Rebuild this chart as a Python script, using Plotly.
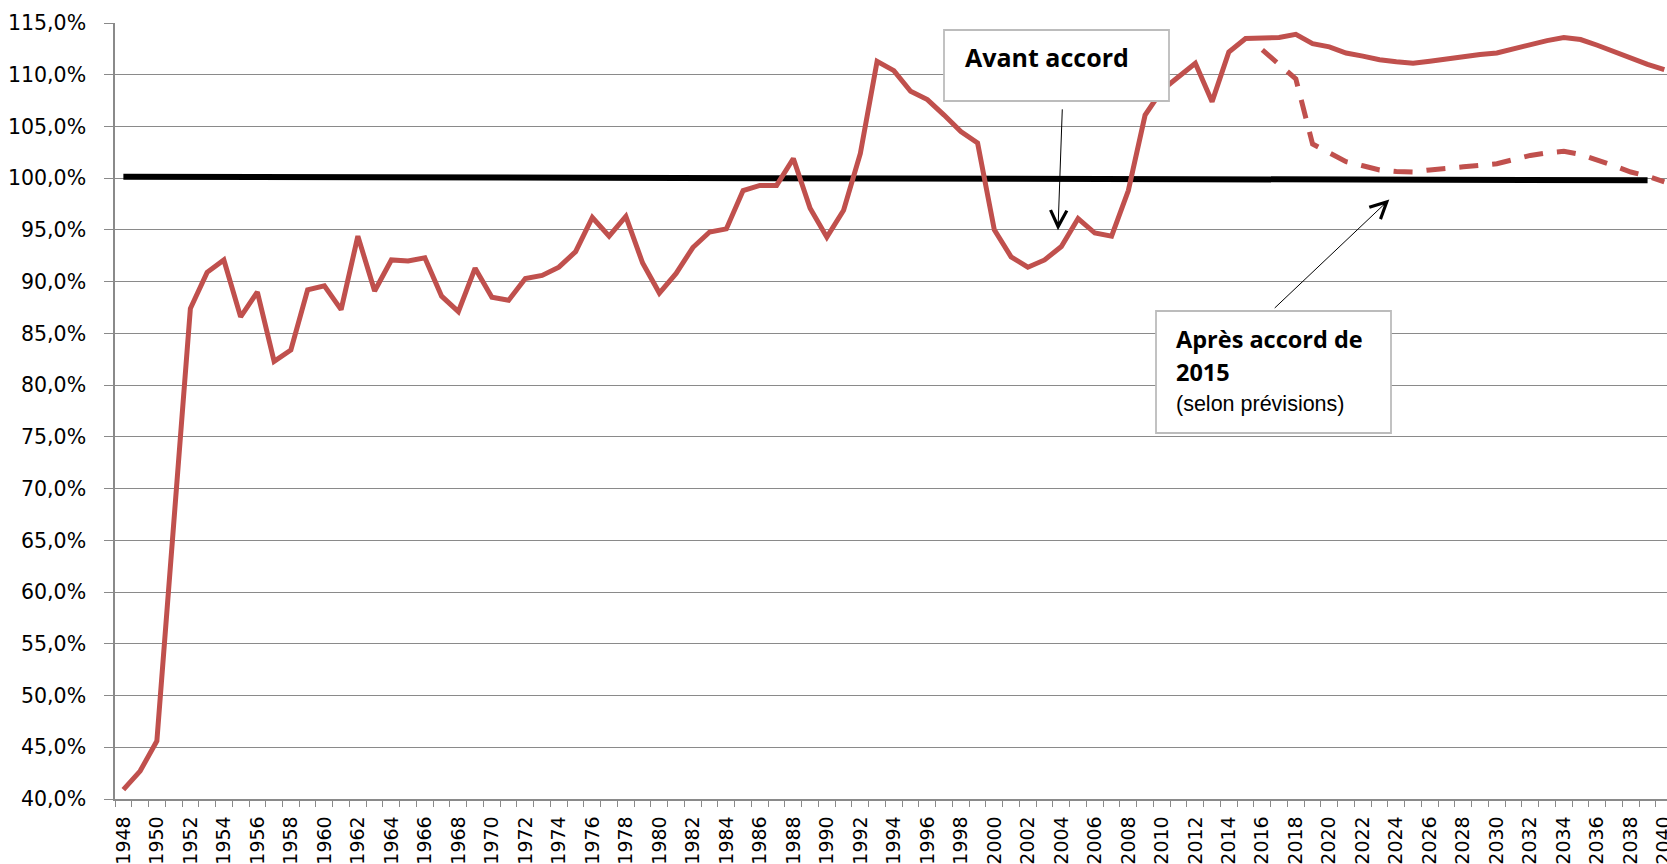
import plotly.graph_objects as go

# ---------------- data ----------------
years = list(range(1948, 2041))
avant_accord = [
    40.9, 42.7, 45.6, 66.0, 87.4, 90.9, 92.1, 86.6, 89.0, 82.3,   # 1948-1957
    83.4, 89.2, 89.6, 87.3, 94.4, 89.1, 92.1, 92.0, 92.3, 88.6,   # 1958-1967
    87.1, 91.3, 88.5, 88.2, 90.3, 90.6, 91.4, 92.9, 96.2, 94.4,   # 1968-1977
    96.3, 91.8, 88.9, 90.8, 93.3, 94.8, 95.1, 98.8, 99.3, 99.3,   # 1978-1987
    101.9, 97.1, 94.3, 96.9, 102.4, 111.3, 110.4, 108.4, 107.6, 106.1,  # 1988-1997
    104.5, 103.4, 95.0, 92.4, 91.4, 92.1, 93.4, 96.1, 94.7, 94.4,  # 1998-2007
    98.8, 106.1, 108.5, 109.8, 111.1, 107.4, 112.2, 113.5, 113.5, 113.6,  # 2008-2017
    113.9, 113.0, 112.7, 112.1, 111.8, 111.45, 111.25, 111.1, 111.3, 111.55,  # 2018-2027
    111.7, 111.95, 112.1, 112.5, 112.95, 113.3, 113.6, 113.4, 112.85, 112.2,  # 2028-2037
    111.55, 111.0, 110.5,  # 2038-2040
]
apres_years = list(range(2016, 2041))
apres_accord = [
    112.4, 111.0, 109.6, 103.3, 102.4, 101.6, 101.2, 100.8, 100.65, 100.6,
    100.8, 101.0, 101.1, 101.25, 101.4, 101.8, 102.2, 102.45, 102.6, 102.3,
    101.8, 101.2, 100.6, 100.2, 99.65,
]
equilibre_years = [1948, 2039]
equilibre = [100.15, 99.8]

label_years = list(range(1948, 2041, 2))
label_text = [str(y) for y in label_years]
y_ticks = list(range(40, 116, 5))
y_tick_text = [f"{v},0%" for v in y_ticks]

# ---------------- layout geometry ----------------
W_FIG, H_FIG = 1667, 864
M_L, M_R, M_T, M_B = 115, 0, 23, 65
PW = W_FIG - M_L - M_R
PH = H_FIG - M_T - M_B


def px(xpix):
    return (xpix - M_L) / PW


def py(ypix):
    return (H_FIG - M_B - ypix) / PH


RED = "#C0504D"
GRID = "#8a8a8a"

fig = go.Figure()
fig.add_trace(go.Scatter(x=equilibre_years, y=equilibre, mode="lines",
                         line=dict(color="#000000", width=6),
                         hoverinfo="skip"))
fig.add_trace(go.Scatter(x=apres_years, y=apres_accord, mode="lines",
                         line=dict(color=RED, width=5, dash="19px,14px"),
                         hoverinfo="skip"))
fig.add_trace(go.Scatter(x=years, y=avant_accord, mode="lines",
                         line=dict(color=RED, width=5),
                         hoverinfo="skip"))

fig.update_layout(
    width=W_FIG, height=H_FIG,
    margin=dict(l=M_L, r=M_R, t=M_T, b=M_B, pad=0, autoexpand=False),
    paper_bgcolor="white", plot_bgcolor="white",
    showlegend=False,
    font=dict(family="DejaVu Sans", color="#000000"),
)

fig.update_xaxes(
    range=[1947.5, 2040.16],
    tickmode="array", tickvals=label_years, ticktext=label_text,
    tickangle=-90,
    tickfont=dict(family="DejaVu Sans", size=19, color="#000000"),
    ticks="outside", ticklen=8, tickcolor="rgba(0,0,0,0)",
    ticklabeloverflow="allow",
    showgrid=False,
    showline=True, linecolor=GRID, linewidth=1.5,
    minor=dict(tickmode="linear", tick0=1947.5, dtick=1, ticks="outside",
               ticklen=6, tickcolor=GRID, tickwidth=1.3, showgrid=False),
    zeroline=False, fixedrange=True, automargin=False,
)

fig.update_yaxes(
    range=[40, 115],
    tickmode="array", tickvals=y_ticks, ticktext=y_tick_text,
    tickfont=dict(family="DejaVu Sans", size=20.5, color="#000000"),
    ticks="outside", ticklen=9, tickcolor=GRID, tickwidth=1.3,
    ticklabelstandoff=14,
    showgrid=True, gridcolor=GRID, gridwidth=1.3,
    showline=True, linecolor=GRID, linewidth=1.5,
    zeroline=False, fixedrange=True, automargin=False,
)

# annotation boxes
BOX = "#bcbcbc"
fig.add_shape(type="rect", xref="paper", yref="paper",
              x0=px(944), x1=px(1169), y0=py(101), y1=py(30),
              fillcolor="white", line=dict(color=BOX, width=1.8), layer="above")
fig.add_shape(type="rect", xref="paper", yref="paper",
              x0=px(1156), x1=px(1391), y0=py(433), y1=py(311),
              fillcolor="white", line=dict(color=BOX, width=1.8), layer="above")

BOLD = dict(family="Open Sans", color="#000000")
fig.add_annotation(xref="paper", yref="paper", x=px(963), y=py(57),
                   xanchor="left", yanchor="middle", showarrow=False,
                   text="<b>Avant accord</b>", font=dict(size=25, **BOLD))
fig.add_annotation(xref="paper", yref="paper", x=px(1174), y=py(339),
                   xanchor="left", yanchor="middle", showarrow=False,
                   text="<b>Après accord de</b>", font=dict(size=23.5, **BOLD))
fig.add_annotation(xref="paper", yref="paper", x=px(1174), y=py(372),
                   xanchor="left", yanchor="middle", showarrow=False,
                   text="<b>2015</b>", font=dict(size=23.5, **BOLD))
fig.add_annotation(xref="paper", yref="paper", x=px(1174), y=py(404),
                   xanchor="left", yanchor="middle", showarrow=False,
                   text="(selon prévisions)",
                   font=dict(family="Liberation Sans", size=21.5, color="#000000"))

# arrows
fig.add_annotation(xref="x", yref="y", axref="x", ayref="y",
                   x=2003.8, y=94.98, ax=2004.06, ay=106.8,
                   text="", showarrow=True, arrowhead=5, arrowsize=3.2,
                   arrowwidth=1.0, arrowcolor="#000000", standoff=0)
fig.add_annotation(xref="x", yref="y", axref="x", ayref="y",
                   x=2023.58, y=97.94, ax=2016.65, ay=87.32,
                   text="", showarrow=True, arrowhead=5, arrowsize=3.2,
                   arrowwidth=1.0, arrowcolor="#000000", standoff=0)

fig.write_html(
    "out.html",
    config={"displayModeBar": False},
    post_script="document.body.style.margin='0';document.body.style.overflow='hidden';",
)
